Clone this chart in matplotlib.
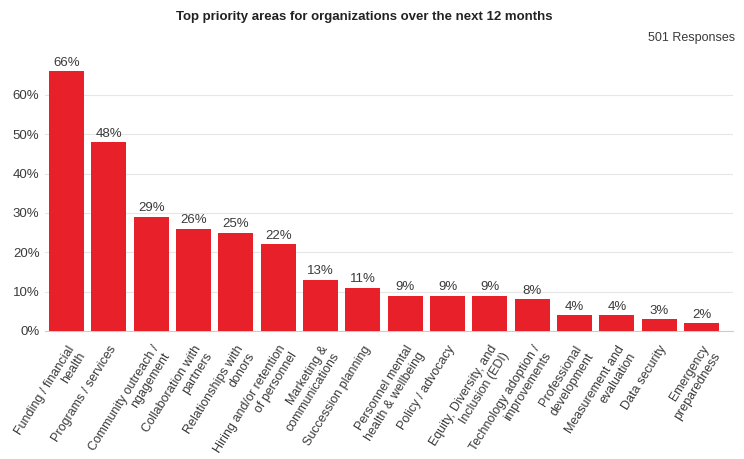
import matplotlib.pyplot as plt

plt.rcParams["font.family"] = ["Liberation Sans", "DejaVu Sans"]

CATEGORIES = [
    "Funding / financial\nhealth",
    "Programs / services",
    "Community outreach /\nngagement",
    "Collaboration with\npartners",
    "Relationships with\ndonors",
    "Hiring and/or retention\nof personnel",
    "Marketing &\ncommunications",
    "Succession planning",
    "Personnel mental\nhealth & wellbeing",
    "Policy / advocacy",
    "Equity, Diversity, and\nInclusion (EDI)",
    "Technology adoption /\nimprovements",
    "Professional\ndevelopment",
    "Measurement and\nevaluation",
    "Data security",
    "Emergency\npreparedness",
]
VALUES = [66, 48, 29, 26, 25, 22, 13, 11, 9, 9, 9, 8, 4, 4, 3, 2]
Y_TICKS = [0, 10, 20, 30, 40, 50, 60]

BAR_COLOR = "#e8202a"
GRID_COLOR = "#e6e6e6"
TEXT_COLOR = "#3a3a3a"

fig = plt.figure(figsize=(7.44, 4.59), dpi=100)
ax = fig.add_axes([0.0605, 0.279, 0.9247, 0.6])

x = range(len(VALUES))
ax.bar(x, VALUES, width=0.83, color=BAR_COLOR, zorder=3)

for i, v in zip(x, VALUES):
    ax.text(i, v + 0.6, f"{v}%", ha="center", va="bottom",
            fontsize=9.5, color=TEXT_COLOR)

ax.set_xlim(-0.508, len(VALUES) - 1 + 0.744)
ax.set_ylim(0, 70)
ax.set_yticks(Y_TICKS)
ax.set_yticklabels([f"{t}%" for t in Y_TICKS], fontsize=9.5, color=TEXT_COLOR)
ax.yaxis.grid(True, color=GRID_COLOR, linewidth=0.8, zorder=0)
ax.tick_params(axis="y", length=0, pad=4)
ax.tick_params(axis="x", length=0, pad=9)

ax.set_xticks(list(x))
ax.set_xticklabels(CATEGORIES, rotation=58, ha="right", rotation_mode="anchor",
                   fontsize=9, color=TEXT_COLOR, multialignment="right",
                   linespacing=1.15)

for s in ["top", "right", "left"]:
    ax.spines[s].set_visible(False)
ax.spines["bottom"].set_color("#cccccc")

fig.text(0.49, 0.963, "Top priority areas for organizations over the next 12 months",
         ha="center", va="center", fontsize=9.5, fontweight="bold", color="#222222")
fig.text(0.988, 0.917, "501 Responses", ha="right", va="center",
         fontsize=9, color=TEXT_COLOR)

fig.savefig("out.png", dpi=100, facecolor="white")
